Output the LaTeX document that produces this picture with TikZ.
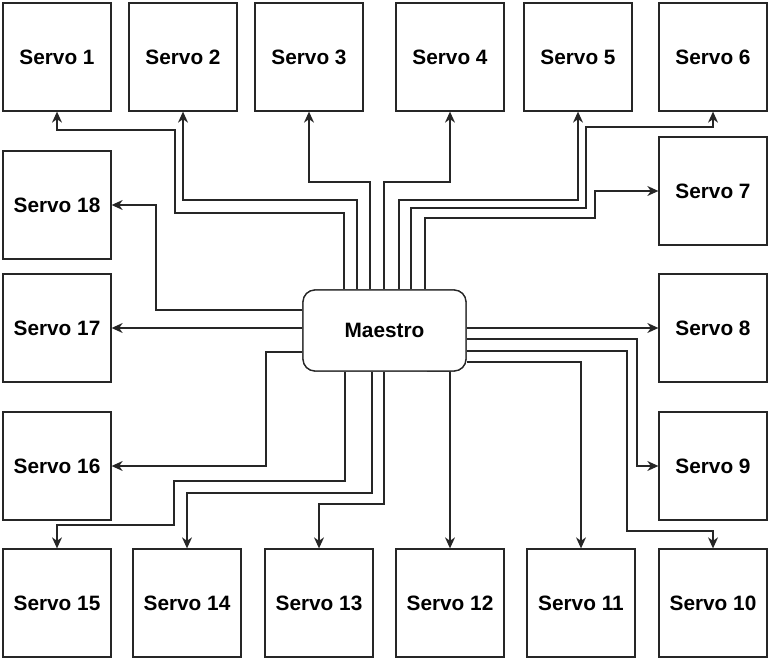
\documentclass[tikz,border=0pt]{standalone}
\usepackage{fontspec}
\setmainfont{Liberation Sans}
\usetikzlibrary{arrows.meta}
\begin{document}
\begin{tikzpicture}[x=1pt,y=-1pt,
  servo/.style={draw=black!85,line width=1.3pt,fill=white,minimum width=108pt,minimum height=108pt,inner sep=0pt,
    font=\fontsize{20.8}{24}\selectfont\bfseries},
  master/.style={draw=black!85,line width=1.3pt,fill=white,rounded corners=12pt,minimum width=163pt,minimum height=81pt,inner sep=0pt,
    font=\fontsize{20.8}{24}\selectfont\bfseries},
  conn/.style={draw=black!85,line width=1.3pt,-{Stealth[length=11pt,width=10pt,inset=3.5pt]}}]
\useasboundingbox (0,0) rectangle (768,660);
% top row
\node[servo] (s1) at (57,57) {Servo 1};
\node[servo] (s2) at (183,57) {Servo 2};
\node[servo] (s3) at (309,57) {Servo 3};
\node[servo] (s4) at (450,57) {Servo 4};
\node[servo] (s5) at (578,57) {Servo 5};
\node[servo] (s6) at (713,57) {Servo 6};
% right column
\node[servo] (s7) at (713,191) {Servo 7};
\node[servo] (s8) at (713,328) {Servo 8};
\node[servo] (s9) at (713,466) {Servo 9};
% bottom row
\node[servo] (s10) at (713,603) {Servo 10};
\node[servo] (s11) at (581,603) {Servo 11};
\node[servo] (s12) at (450,603) {Servo 12};
\node[servo] (s13) at (319,603) {Servo 13};
\node[servo] (s14) at (187,603) {Servo 14};
\node[servo] (s15) at (57,603) {Servo 15};
% left column
\node[servo] (s16) at (57,466) {Servo 16};
\node[servo] (s17) at (57,328) {Servo 17};
\node[servo] (s18) at (57,205) {Servo 18};
% master
\node[master] (m) at (384.5,330.5) {Maestro};
% connectors, top
\draw[conn] (m.north -| 344,0) |- (175,213) |- (57,130) -- (s1.south);
\draw[conn] (m.north -| 357,0) |- (183,200) -- (s2.south);
\draw[conn] (m.north -| 370,0) |- (309,182) -- (s3.south);
\draw[conn] (m.north -| 384,0) |- (450,182) -- (s4.south);
\draw[conn] (m.north -| 399,0) |- (578,200) -- (s5.south);
\draw[conn] (m.north -| 411,0) |- (586,208) |- (713,127) -- (s6.south);
\draw[conn] (m.north -| 425,0) |- (595,218) |- (s7.west);
% right
\draw[conn] (m.east |- 0,328) -- (s8.west);
\draw[conn] (m.east |- 0,339) -| (637,466) -- (s9.west);
\draw[conn] (m.east |- 0,351) -| (627,531) -| (s10.north);
\draw[conn] (m.east |- 0,362) -| (s11.north);
% bottom
\draw[conn] (m.south -| 427,0) -| (s12.north);
\draw[conn] (m.south -| 384,0) |- (319,504) -- (s13.north);
\draw[conn] (m.south -| 372,0) |- (187,493) -- (s14.north);
\draw[conn] (m.south -| 345,0) |- (174,481) |- (57,525) -- (s15.north);
% left
\draw[conn] (m.west |- 0,352) -| (266,466) -- (s16.east);
\draw[conn] (m.west |- 0,328) -- (s17.east);
\draw[conn] (m.west |- 0,310) -| (156,205) -- (s18.east);
% redraw master on top so connector starts sit on its border
\node[master] at (384.5,330.5) {Maestro};
\end{tikzpicture}
\end{document}
